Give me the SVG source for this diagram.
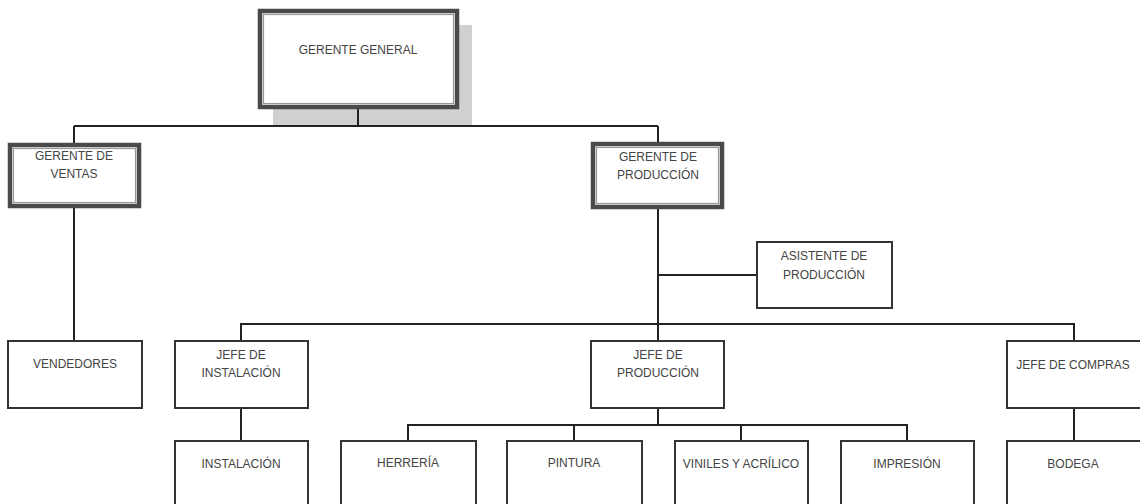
<svg xmlns="http://www.w3.org/2000/svg" width="1140" height="504" viewBox="0 0 1140 504">
<style>
.box{fill:#fff;stroke:#333;stroke-width:2}
.dbl{fill:#fff;stroke:#4a4a4a;stroke-width:4.5}
.dbli{fill:none;stroke:#999;stroke-width:1.2}
.t{font-family:"Liberation Sans",Arial,sans-serif;font-size:12px;fill:#444;text-anchor:middle}
.c{fill:none;stroke:#222;stroke-width:2}
</style>
<rect width="1140" height="504" fill="#fff"/>
<rect x="273" y="25" width="199" height="101" fill="#d0d0d0"/>
<g id="connectors">
<path class="c" d="M358 109V126M74 126H658M74 126V143M658 126V142"/>
<path class="c" d="M74 208V341"/>
<path class="c" d="M658 209V341M658 275H757"/>
<path class="c" d="M241 341V324H1074V341"/>
<path class="c" d="M241 408V441"/>
<path class="c" d="M658 408V425M408 441V425H907V441M574 425V441M741 425V441"/>
<path class="c" d="M1074 408V441"/>
</g>
<g id="gerente-general">
<rect class="dbl" x="260" y="11" width="197" height="96"/>
<rect class="dbli" x="263.5" y="14.5" width="190" height="89"/>
<text class="t" x="358" y="54">GERENTE GENERAL</text>
</g>
<g id="gerente-ventas">
<rect class="dbl" x="10" y="145" width="129" height="61"/>
<rect class="dbli" x="13.5" y="148.5" width="122" height="54"/>
<text class="t" x="74" y="160">GERENTE DE</text>
<text class="t" x="74" y="178">VENTAS</text>
</g>
<g id="gerente-produccion">
<rect class="dbl" x="593" y="144" width="129" height="63"/>
<rect class="dbli" x="596.5" y="147.5" width="122" height="56"/>
<text class="t" x="658" y="161">GERENTE DE</text>
<text class="t" x="658" y="179">PRODUCCIÓN</text>
</g>
<g id="asistente-produccion">
<rect class="box" x="757" y="242" width="135" height="66"/>
<text class="t" x="824" y="260">ASISTENTE DE</text>
<text class="t" x="824" y="279">PRODUCCIÓN</text>
</g>
<g id="vendedores">
<rect class="box" x="8" y="341" width="134" height="67"/>
<text class="t" x="75" y="368">VENDEDORES</text>
</g>
<g id="jefe-instalacion">
<rect class="box" x="175" y="341" width="133" height="67"/>
<text class="t" x="241" y="359">JEFE DE</text>
<text class="t" x="241" y="377">INSTALACIÓN</text>
</g>
<g id="jefe-produccion">
<rect class="box" x="591" y="341" width="133" height="67"/>
<text class="t" x="658" y="359">JEFE DE</text>
<text class="t" x="658" y="377">PRODUCCIÓN</text>
</g>
<g id="jefe-compras">
<rect class="box" x="1007" y="341" width="134" height="67"/>
<text class="t" x="1073" y="369">JEFE DE COMPRAS</text>
</g>
<g id="instalacion">
<rect class="box" x="175" y="441" width="133" height="70"/>
<text class="t" x="241" y="468">INSTALACIÓN</text>
</g>
<g id="herreria">
<rect class="box" x="341" y="441" width="135" height="70"/>
<text class="t" x="408" y="467">HERRERÍA</text>
</g>
<g id="pintura">
<rect class="box" x="507" y="441" width="135" height="70"/>
<text class="t" x="574" y="467">PINTURA</text>
</g>
<g id="viniles">
<rect class="box" x="675" y="441" width="133" height="70"/>
<text class="t" x="741" y="468">VINILES Y ACRÍLICO</text>
</g>
<g id="impresion">
<rect class="box" x="841" y="441" width="133" height="70"/>
<text class="t" x="907" y="468">IMPRESIÓN</text>
</g>
<g id="bodega">
<rect class="box" x="1007" y="441" width="134" height="70"/>
<text class="t" x="1073" y="468">BODEGA</text>
</g>
</svg>
